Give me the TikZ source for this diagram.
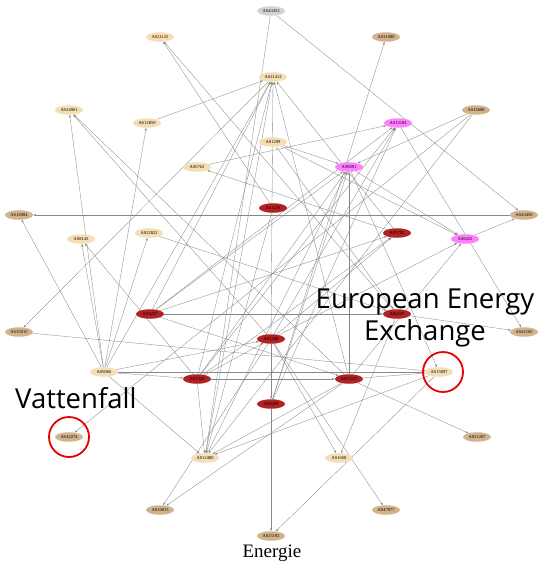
\documentclass[tikz,border=0pt]{standalone}
\usepackage{fontspec}
\setmainfont{Liberation Serif}
\newfontfamily\bigsans{Open Sans}
\usetikzlibrary{arrows.meta,backgrounds,shapes.geometric}
\definecolor{lightn}{RGB}{245,222,179}
\definecolor{tann}{RGB}{210,180,140}
\definecolor{redn}{RGB}{178,34,34}
\definecolor{pinkn}{RGB}{255,128,255}
\definecolor{grayn}{RGB}{211,211,211}
\definecolor{edgec}{RGB}{135,135,135}
\definecolor{hired}{RGB}{235,0,0}
\tikzset{
 asnode/.style={ellipse, minimum width=28pt, minimum height=9.5pt, inner sep=0pt, font=\fontsize{4.5}{5}\selectfont, text=black},
 lt/.style={asnode, fill=lightn},
 tn/.style={asnode, fill=tann},
 rd/.style={asnode, fill=redn},
 pk/.style={asnode, fill=pinkn},
 gy/.style={asnode, fill=grayn},
 link/.style={draw=edgec, line width=0.32pt, -{Stealth[length=2.8pt,width=2pt]}},
 hilite/.style={draw=hired, line width=1.8pt, circle, minimum size=40pt, inner sep=0pt},
 bigtext/.style={font=\bigsans\fontsize{27.5}{32}\selectfont, inner sep=0pt}
}
\begin{document}
\begin{tikzpicture}[x=1pt,y=-1pt]
\useasboundingbox (0,0) rectangle (539,562);
\node[gy] (n43453) at (271,11) {AS43453};
\node[lt] (n21125) at (160,37) {AS21125};
\node[tn] (n31080) at (386,37) {AS31080};
\node[lt] (n21413) at (273,77) {AS21413};
\node[lt] (n24961) at (69,110) {AS24961};
\node[lt] (n12859) at (147,123) {AS12859};
\node[pk] (n13184) at (398,123) {AS13184};
\node[tn] (n15608) at (476,110) {AS15608};
\node[lt] (n1299) at (273,142) {AS1299};
\node[lt] (n6762) at (197,167) {AS6762};
\node[pk] (n8881) at (349,167) {AS8881};
\node[tn] (n16084) at (19,215) {AS16084};
\node[rd] (n1239) at (273,208) {AS1239};
\node[tn] (n43450) at (524,215) {AS43450};
\node[rd] (n5702) at (397,233) {AS5702};
\node[lt] (n8145) at (81,239) {AS8145};
\node[lt] (n22822) at (149,233) {AS22822};
\node[pk] (n8422) at (465,239) {AS8422};
\node[rd] (n3257) at (150,314) {AS3257};
\node[tn] (n35915) at (19,332) {AS35915};
\node[rd] (n6225) at (397,314) {AS6225};
\node[tn] (n42160) at (524,332) {AS42160};
\node[rd] (n1280) at (271,339) {AS1280};
\node[lt] (n9066) at (104,372) {AS9066};
\node[rd] (n3320) at (197,379) {AS3320};
\node[rd] (n13237) at (349,379) {AS13237};
\node[lt] (n15897) at (439,372) {AS15897};
\node[rd] (n3209) at (271,404) {AS3209};
\node[tn] (n42274) at (69,437) {AS42274};
\node[tn] (n21207) at (477,437) {AS21207};
\node[lt] (n12480) at (205,458) {AS12480};
\node[lt] (n1668) at (339,458) {AS1668};
\node[tn] (n34815) at (160,510) {AS34815};
\node[tn] (n47877) at (386,510) {AS47877};
\node[tn] (n25192) at (271,536) {AS25192};
\begin{pgfonlayer}{background}
\fill[white] (0,0) rectangle (539,562);
\foreach \s/\t in {
 n43453/n43450, n43453/n12480, n1239/n21125, n6225/n21125, n3209/n31080,
 n12859/n21413, n21413/n35915, n3257/n21413, n9066/n21413, n3320/n21413,
 n12480/n21413, n13237/n21413, n5702/n21413, n1280/n21413,
 n1280/n24961, n13237/n24961, n9066/n12859, n9066/n16084, n9066/n24961,
 n9066/n8145, n3320/n8145, n9066/n22822, n22822/n6225, n6762/n13184,
 n5702/n6762, n15608/n8881, n15608/n12480, n15608/n42274,
 n1299/n8881, n1299/n8422, n1299/n6225, n43450/n16084, n8422/n43450,
 n8881/n8422, n3257/n6225, n3257/n13237, n3257/n8881, n3257/n13184,
 n3257/n5702, n3320/n8881, n3320/n13184, n3320/n5702, n3320/n1280,
 n3320/n13237, n9066/n3320, n9066/n1280, n9066/n15897, n35915/n15897,
 n8881/n15897, n13237/n15897, n15897/n25192, n6225/n42160, n13184/n42160,
 n13237/n21207, n1280/n47877, n1280/n1668, n6225/n1668, n3209/n25192,
 n1280/n34815, n13237/n34815, n9066/n12480, n3320/n12480, n13237/n12480,
 n15897/n12480, n13237/n8881, n1280/n8422, n13237/n8422, n1280/n13184,
 n3209/n8881, n1280/n3209, n3209/n13184, n12480/n8881, n1280/n5702,
 n1239/n12480}
 \draw[link] (\s) -- (\t);
\end{pgfonlayer}
\node[hilite] (c1) at (69,437) {};
\node[hilite] (c2) at (443,372) {};
\node[bigtext, anchor=base west] (vat) at (15,408) {Vattenfall};
\node[bigtext, anchor=base] (eex1) at (425,308) {European Energy};
\node[bigtext, anchor=base] (eex2) at (425,340) {Exchange};
\node[anchor=base, inner sep=0pt, font=\fontsize{19}{22}\selectfont] (cap) at (272,557) {Energie};
\end{tikzpicture}
\end{document}
